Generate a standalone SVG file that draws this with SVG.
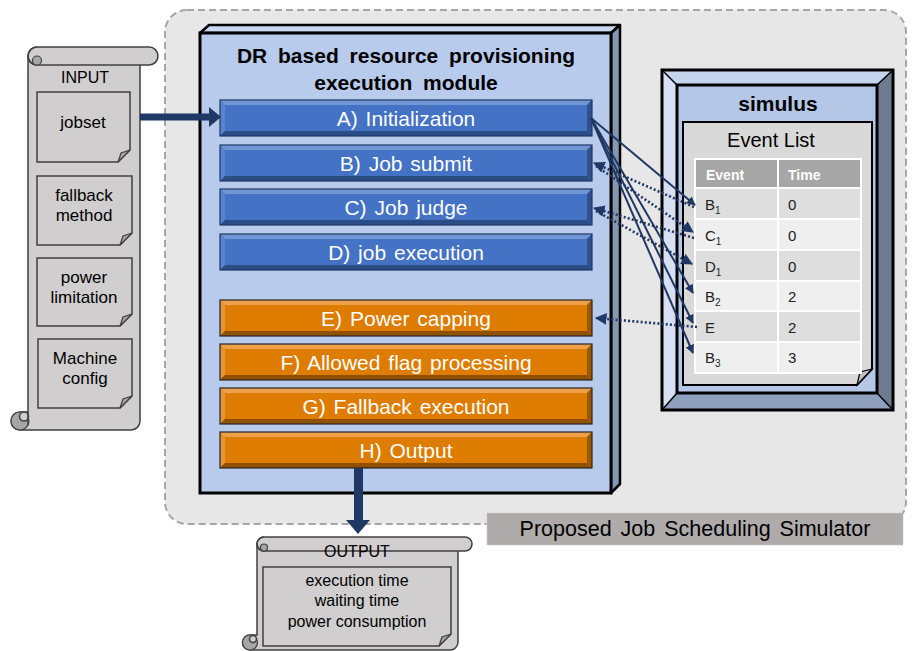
<svg xmlns="http://www.w3.org/2000/svg" xmlns:xlink="http://www.w3.org/1999/xlink" width="912" height="651" viewBox="0 0 912 651">
<style>
text{font-family:"Liberation Sans",Arial,sans-serif;}
.bar{font-size:21px;fill:#fff;text-anchor:middle;word-spacing:2px;}
.doc{fill:#d0cece;stroke:#404040;stroke-width:1.5;}
.fold{fill:#a6a6a6;stroke:#404040;stroke-width:1.2;}
.lbl{font-size:17px;fill:#000;text-anchor:middle;}
.cell{font-size:15px;fill:#222;}
.sub{font-size:10px;}
.solid{stroke:#203864;stroke-width:2;fill:none;marker-end:url(#ah);}
.dot{stroke:#203864;stroke-width:2.6;fill:none;stroke-dasharray:2 2.2;marker-end:url(#ah);}
</style>
<defs>
<marker id="ah" viewBox="0 0 10 10" refX="9" refY="5" markerWidth="4.5" markerHeight="4.5" orient="auto" markerUnits="strokeWidth">
<path d="M0,0 L10,5 L0,10 Z" fill="#203864"/>
</marker>
<g id="bevB">
<rect x="0" y="0" width="372" height="36" fill="#4472c4"/>
<polygon points="0,0 372,0 367,5 5,5" fill="#7196d6"/>
<polygon points="0,0 5,5 5,31 0,36" fill="#5a84cf"/>
<polygon points="372,0 372,36 367,31 367,5" fill="#2f528f"/>
<polygon points="0,36 5,31 367,31 372,36" fill="#2b4c85"/>
<rect x="0" y="0" width="372" height="36" fill="none" stroke="#1f3864" stroke-width="1.2"/>
</g>
<g id="bevO">
<rect x="0" y="0" width="372" height="36" fill="#de7c00"/>
<polygon points="0,0 372,0 367,5 5,5" fill="#eea04a"/>
<polygon points="0,0 5,5 5,31 0,36" fill="#e8953a"/>
<polygon points="372,0 372,36 367,31 367,5" fill="#9c5800"/>
<polygon points="0,36 5,31 367,31 372,36" fill="#8f5000"/>
<rect x="0" y="0" width="372" height="36" fill="none" stroke="#262626" stroke-width="1.2"/>
</g>
</defs>
<rect width="912" height="651" fill="#ffffff"/>

<g id="simulator-area">
<rect x="165" y="10" width="741" height="514" rx="22" fill="#e7e7e7" stroke="#a6a6a6" stroke-width="2" stroke-dasharray="7 4"/>
</g>

<g id="input-scroll">
<path d="M28,56 H140 V421 A9,9 0 0 1 131,430 H20 A9,9 0 0 1 20,412 H28 Z" class="doc"/>
<rect x="28" y="47" width="130" height="18" rx="9" class="doc"/>
<path d="M37,65 A9,9 0 0 1 37,47" fill="none" stroke="#404040" stroke-width="1.5"/>
<circle cx="37" cy="60.5" r="4.5" class="fold"/>
<circle cx="20" cy="421" r="9" class="fold"/>
<circle cx="24" cy="416.5" r="4.5" class="doc"/>
<line x1="28" y1="412" x2="28" y2="425" stroke="#404040" stroke-width="1.5"/>
<text x="85" y="83" class="lbl" style="font-size:16px">INPUT</text>
<g id="doc-jobset">
<path d="M37,92 H130 V150 L118,162 H37 Z" class="doc"/>
<polygon points="118,162 121,153 130,150" class="fold"/>
<text x="83" y="128" class="lbl">jobset</text>
</g>
<g id="doc-fallback">
<path d="M37,176 H132 V233 L120,245 H37 Z" class="doc"/>
<polygon points="120,245 123,236 132,233" class="fold"/>
<text x="84" y="201" class="lbl">fallback</text>
<text x="84" y="221" class="lbl">method</text>
</g>
<g id="doc-power">
<path d="M37,258 H132 V314 L120,326 H37 Z" class="doc"/>
<polygon points="120,326 123,317 132,314" class="fold"/>
<text x="84" y="283" class="lbl">power</text>
<text x="84" y="303" class="lbl">limitation</text>
</g>
<g id="doc-machine">
<path d="M38,339 H132 V396 L120,408 H38 Z" class="doc"/>
<polygon points="120,408 123,399 132,396" class="fold"/>
<text x="85" y="364" class="lbl">Machine</text>
<text x="85" y="384" class="lbl">config</text>
</g>
</g>

<g id="module">
<polygon points="200,33 209,25 620,25 611,33" fill="#c9d7f0" stroke="#000" stroke-width="2.5" stroke-linejoin="round"/>
<polygon points="611,33 620,25 620,484 611,493" fill="#8497b0" stroke="#000" stroke-width="2.5" stroke-linejoin="round"/>
<rect x="200" y="33" width="411" height="460" fill="#b8cbec" stroke="#000" stroke-width="3"/>
<text x="406" y="63" text-anchor="middle" font-weight="bold" font-size="21" word-spacing="5">DR based resource provisioning</text>
<text x="406" y="90" text-anchor="middle" font-weight="bold" font-size="21" word-spacing="5">execution module</text>
</g>

<g id="bar-A"><use xlink:href="#bevB" x="220" y="100"/><text x="406" y="125.5" class="bar">A) Initialization</text></g>
<g id="bar-B"><use xlink:href="#bevB" x="220" y="145"/><text x="406" y="170.5" class="bar">B) Job submit</text></g>
<g id="bar-C"><use xlink:href="#bevB" x="220" y="189"/><text x="406" y="214.5" class="bar">C) Job judge</text></g>
<g id="bar-D"><use xlink:href="#bevB" x="220" y="234"/><text x="406" y="259.5" class="bar">D) job execution</text></g>
<g id="bar-E"><use xlink:href="#bevO" x="220" y="300"/><text x="406" y="325.5" class="bar">E) Power capping</text></g>
<g id="bar-F"><use xlink:href="#bevO" x="220" y="344"/><text x="406" y="369.5" class="bar">F) Allowed flag processing</text></g>
<g id="bar-G"><use xlink:href="#bevO" x="220" y="388"/><text x="406" y="413.5" class="bar">G) Fallback execution</text></g>
<g id="bar-H"><use xlink:href="#bevO" x="220" y="432"/><text x="406" y="457.5" class="bar">H) Output</text></g>

<g id="simulus">
<rect x="662" y="70" width="231" height="340" fill="#b4c7e7"/>
<polygon points="662,70 893,70 877,85 677,85" fill="#c6d5ee"/>
<polygon points="662,70 677,85 677,393 662,410" fill="#d6e0f2"/>
<polygon points="893,70 893,410 877,393 877,85" fill="#6f7b91"/>
<polygon points="662,410 677,393 877,393 893,410" fill="#8ea0bd"/>
<g stroke="#000" stroke-width="1.5">
<line x1="662" y1="70" x2="677" y2="85"/><line x1="893" y1="70" x2="877" y2="85"/>
<line x1="662" y1="410" x2="677" y2="393"/><line x1="893" y1="410" x2="877" y2="393"/>
</g>
<rect x="662" y="70" width="231" height="340" fill="none" stroke="#000" stroke-width="3"/>
<rect x="677" y="85" width="200" height="308" fill="#b4c7e7" stroke="#000" stroke-width="3"/>
<text x="778" y="111" text-anchor="middle" font-weight="bold" font-size="21">simulus</text>
</g>

<g id="event-list">
<path d="M683,122 H872 V369 L857,385 H683 Z" fill="#d9d9d9" stroke="#000" stroke-width="2"/>
<polygon points="857,385 860,372 872,369" fill="#bfbfbf" stroke="#000" stroke-width="1.2"/>
<text x="771" y="147" text-anchor="middle" font-size="20">Event List</text>
<rect x="695" y="159" width="166" height="29" fill="#a6a6a6"/>
<rect x="695" y="188" width="166" height="31" fill="#dedede"/>
<rect x="695" y="219" width="166" height="31" fill="#efefef"/>
<rect x="695" y="250" width="166" height="31" fill="#dedede"/>
<rect x="695" y="281" width="166" height="30" fill="#efefef"/>
<rect x="695" y="311" width="166" height="31" fill="#dedede"/>
<rect x="695" y="342" width="166" height="31" fill="#efefef"/>
<g stroke="#fff" stroke-width="2" fill="none">
<rect x="695" y="159" width="166" height="214"/>
<line x1="778" y1="159" x2="778" y2="373"/>
<line x1="695" y1="188" x2="861" y2="188"/>
<line x1="695" y1="219" x2="861" y2="219"/>
<line x1="695" y1="250" x2="861" y2="250"/>
<line x1="695" y1="281" x2="861" y2="281"/>
<line x1="695" y1="311" x2="861" y2="311"/>
<line x1="695" y1="342" x2="861" y2="342"/>
</g>
<text x="706" y="180" font-size="14" font-weight="bold" fill="#fff">Event</text>
<text x="788" y="180" font-size="14" font-weight="bold" fill="#fff">Time</text>
<text x="705" y="210" class="cell">B<tspan class="sub" dy="4">1</tspan></text><text x="788" y="210" class="cell">0</text>
<text x="705" y="241" class="cell">C<tspan class="sub" dy="4">1</tspan></text><text x="788" y="241" class="cell">0</text>
<text x="705" y="272" class="cell">D<tspan class="sub" dy="4">1</tspan></text><text x="788" y="272" class="cell">0</text>
<text x="705" y="302" class="cell">B<tspan class="sub" dy="4">2</tspan></text><text x="788" y="302" class="cell">2</text>
<text x="705" y="333" class="cell">E</text><text x="788" y="333" class="cell">2</text>
<text x="705" y="363" class="cell">B<tspan class="sub" dy="4">3</tspan></text><text x="788" y="363" class="cell">3</text>
</g>

<g id="label-simulator">
<rect x="487" y="513" width="416" height="32" fill="#afabab" stroke="#c9c9c9" stroke-width="1" stroke-dasharray="2 2"/>
<text x="695" y="536" text-anchor="middle" font-size="21.5" word-spacing="3">Proposed Job Scheduling Simulator</text>
</g>

<g id="output-scroll">
<path d="M257,544 H458 V642 A8,8 0 0 1 450,650 H250 A7.5,7.5 0 0 1 250,635 H257 Z" class="doc"/>
<rect x="257" y="537" width="215" height="14" rx="7" class="doc"/>
<path d="M264,551 A7,7 0 0 1 264,537" fill="none" stroke="#404040" stroke-width="1.5"/>
<circle cx="264" cy="547.5" r="3.5" class="fold"/>
<circle cx="250" cy="642.5" r="7.5" class="fold"/>
<circle cx="253" cy="639" r="3.5" class="doc"/>
<text x="357" y="557" class="lbl" style="font-size:16px">OUTPUT</text>
<path d="M263,567 H451 V634 L439,646 H263 Z" class="doc"/>
<polygon points="439,646 442,637 451,634" class="fold"/>
<text x="357" y="586" class="lbl" style="font-size:16px">execution time</text>
<text x="357" y="606" class="lbl" style="font-size:16px">waiting time</text>
<text x="357" y="627" class="lbl" style="font-size:16px">power consumption</text>
</g>

<g id="connectors">
<rect x="140" y="113.5" width="70" height="7" fill="#203864"/>
<polygon points="209,107 221,117 209,127" fill="#203864"/>
<rect x="354" y="468" width="9" height="53" fill="#203864"/>
<polygon points="346,520 370,520 358,534" fill="#203864"/>
<line class="solid" x1="591" y1="118" x2="695" y2="205"/>
<line class="solid" x1="591" y1="118" x2="693" y2="293"/>
<line class="solid" x1="591" y1="118" x2="693" y2="323"/>
<line class="solid" x1="591" y1="118" x2="693" y2="353"/>
<line class="dot" x1="694" y1="207" x2="594" y2="163"/>
<line class="dot" x1="596" y1="166" x2="693" y2="232"/>
<line class="dot" x1="694" y1="238" x2="594" y2="208"/>
<line class="dot" x1="596" y1="211" x2="692" y2="264"/>
<line class="dot" x1="697" y1="327" x2="596" y2="318"/>
</g>
</svg>
